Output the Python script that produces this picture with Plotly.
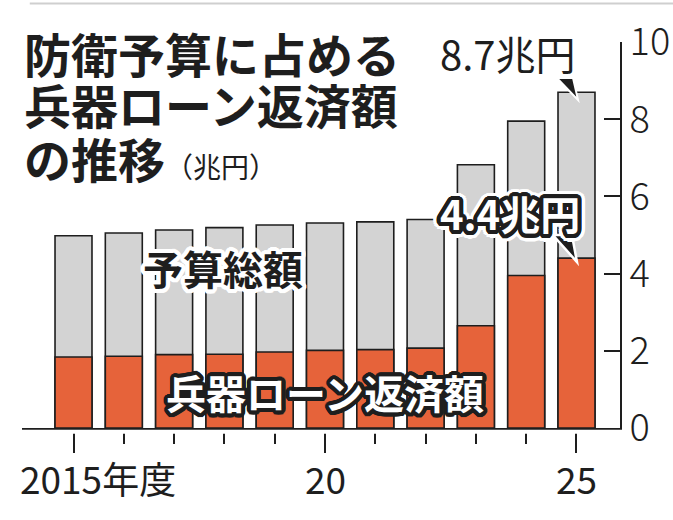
import math
import plotly.graph_objects as go

# 年度, 防衛予算総額, 兵器ローン返済額 (兆円)
years = list(range(2015, 2026))
total_budget = [4.98, 5.05, 5.13, 5.19, 5.26, 5.31, 5.34, 5.40, 6.82, 7.95, 8.70]
loan_repayment = [1.84, 1.86, 1.90, 1.91, 1.97, 2.01, 2.03, 2.07, 2.65, 3.95, 4.40]

x_labels = ["2015年度", "20", "25"]
x_label_years = [2015, 2020, 2025]
y_ticks = [0, 2, 4, 6, 8, 10]

GRAY = "#d3d3d3"
ORANGE = "#e6633a"
INK = "#1e1e1e"
JP = "Noto Sans CJK JP"


def ring(color, r, n=24):
    return [f"{r * math.cos(2 * math.pi * i / n):.1f}px {r * math.sin(2 * math.pi * i / n):.1f}px 0 {color}"
            for i in range(n)]


def label(text, x, y, size, color=INK, weight="normal", shadow=None, **kw):
    kw.setdefault("xref", "paper")
    kw.setdefault("xanchor", "center")
    fig.add_annotation(text=text, x=x, y=y, yref="paper", yanchor="middle", showarrow=False,
                       font=dict(size=size, color=color, weight=weight,
                                 shadow=", ".join(shadow) if shadow else "none"), **kw)


fig = go.Figure()
fig.add_trace(go.Bar(x=years, y=total_budget, width=0.735, marker_color=GRAY,
                     marker_line=dict(color=INK, width=1.6), name="予算総額"))
fig.add_trace(go.Bar(x=years, y=loan_repayment, width=0.735, marker_color=ORANGE,
                     marker_line=dict(color=INK, width=1.6), name="兵器ローン返済額"))

fig.update_layout(
    width=673, height=520,
    margin=dict(l=22, r=53, t=42, b=92, autoexpand=False),
    barmode="overlay", showlegend=False,
    plot_bgcolor="white", paper_bgcolor="white",
    font=dict(family=JP, color=INK),
)
fig.update_xaxes(
    range=[2013.976, 2025.865], showgrid=False, zeroline=False, automargin=False,
    showline=True, linecolor=INK, linewidth=2,
    tickvals=x_label_years, ticks="outside", ticklen=23, tickwidth=2, tickcolor=INK,
    showticklabels=False,
    minor=dict(tickvals=years, ticks="outside", ticklen=14, tickwidth=2, tickcolor=INK),
)
fig.update_yaxes(
    range=[0, 10], side="right", showgrid=False, zeroline=False, automargin=False,
    showline=True, linecolor=INK, linewidth=2,
    tickvals=y_ticks, ticks="inside", ticklen=16, tickwidth=2, tickcolor=INK,
    tickfont=dict(family=JP, size=38, color=INK, weight=300),
)

# gap between axis line and x ticks, and thin rule at the top
fig.add_shape(type="rect", xref="paper", yref="paper", x0=-0.01, x1=1.01, y0=-0.0045, y1=-0.0148,
              fillcolor="white", line_width=0, layer="above")
fig.add_shape(type="line", xref="paper", yref="paper", x0=0.013, x1=1.09, y0=1.1, y1=1.1,
              line=dict(color="#cfcfcf", width=2))

# pointers to the 2025 values
X, T, V = years[-1], total_budget[-1], loan_repayment[-1]
fig.add_shape(type="path", xref="x", yref="y",
              path=f"M {X - 0.39} {T + 0.37} L {X - 0.07} {T + 0.37} L {X + 0.03} {T - 0.2} Z",
              fillcolor=INK, line=dict(color="white", width=2), layer="above")
fig.add_shape(type="path", xref="x", yref="y",
              path=f"M {X - 0.47} {V + 0.6} L {X - 0.09} {V + 0.6} L {X + 0.01} {V - 0.1} Z",
              fillcolor=INK, line=dict(color="white", width=2.5), layer="above")

# title
label("防衛予算に占める", 0, 0.974, 47, weight="bold", xanchor="left")
label("兵器ローン返済額", 0, 0.840, 47, weight="bold", xanchor="left")
label("の推移<span style='font-size:28px;font-weight:normal'>（兆円）</span>", 0, 0.702, 47,
      weight="bold", xanchor="left")

# value labels
label(f"{T}兆円", 0.813, 0.972, 40)
label(f"{V}兆円", 0.816, 0.557, 40, color="white", weight="bold",
      shadow=ring(INK, 2) + ring(INK, 4) + ring("white", 6) + ring("white", 7.5))

# series labels
label("予算総額", 0.336, 0.415, 40, weight="bold", shadow=ring("white", 2) + ring("white", 4))
label("兵器ローン返済額", 0.507, 0.093, 40, color="white", weight="bold",
      shadow=ring(INK, 2) + ring(INK, 4))

# x labels
label(x_labels[0], x_label_years[0], -0.13, 37, xref="x", xanchor="left", xshift=-56)
for lab, yr in zip(x_labels[1:], x_label_years[1:]):
    label(lab, yr, -0.13, 37, xref="x")

fig.write_html("out.html", config={"displayModeBar": False},
               post_script="document.body.style.margin='0';")
